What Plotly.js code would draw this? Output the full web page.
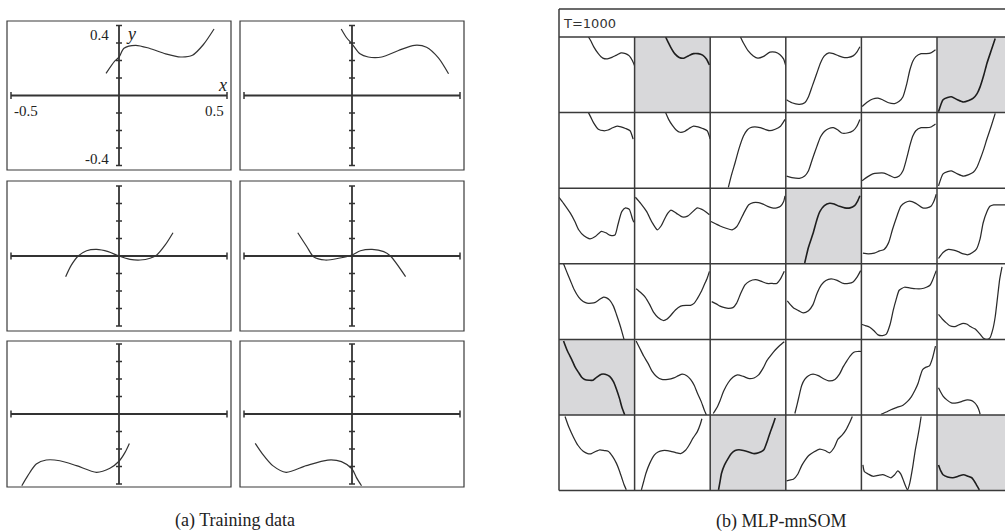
<!DOCTYPE html>
<html><head><meta charset="utf-8">
<script src="https://cdn.plot.ly/plotly-3.0.1.min.js"></script>
<style>html,body{margin:0;padding:0;background:#fff;}#chart{width:1005px;height:532px;}</style>
</head><body><div id="chart"></div>
<script>
// ---------- (a) Training data : six target functions y = f(x) ----------
const trainX1 = [-0.06,-0.02,0,0.023,0.077,0.14,0.216,0.286,0.34,0.39,0.44];
const trainY1 = [0.126,0.196,0.219,0.27,0.287,0.27,0.238,0.22,0.23,0.29,0.38];
const trainX2 = [-0.05,-0.025,0,0.037,0.075,0.138,0.215,0.29,0.345,0.40,0.447];
const trainY2 = [0.38,0.33,0.295,0.238,0.22,0.22,0.257,0.287,0.276,0.215,0.124];
const trainX3 = [-0.247,-0.22,-0.189,-0.15,-0.104,-0.05,0,0.051,0.098,0.144,0.175,0.214,0.25];
const trainY3 = [-0.118,-0.051,0,0.03,0.038,0.025,0,-0.019,-0.023,-0.013,0.006,0.063,0.133];
const trainX4 = [-0.251,-0.209,-0.178,-0.124,-0.062,0,0.039,0.093,0.147,0.178,0.248];
const trainY4 = [0.133,0.053,-0.004,-0.023,-0.013,0.006,0.03,0.038,0.025,0,-0.118];
const trainX5 = [-0.45,-0.422,-0.383,-0.337,-0.274,-0.197,-0.104,-0.042,0,0.028,0.048];
const trainY5 = [-0.41,-0.352,-0.286,-0.263,-0.267,-0.295,-0.333,-0.31,-0.27,-0.219,-0.168];
const trainX6 = [-0.448,-0.414,-0.367,-0.305,-0.212,-0.112,-0.049,0,0.02,0.044];
const trainY6 = [-0.168,-0.229,-0.295,-0.333,-0.295,-0.263,-0.272,-0.314,-0.362,-0.41];
const yTickVals = [-0.4,-0.3,-0.2,-0.1,0.1,0.2,0.3,0.4];
const xEndVals = [-0.5,0.5];

// ---------- (b) MLP-mnSOM : 6x6 map, module outputs (normalised input u, output v) ----------
const somR0U = [
 [0.39,0.42,0.46,0.52,0.58,0.64,0.70,0.76,0.82,0.88,0.93,0.97,1.0],
 [0.41,0.44,0.48,0.53,0.59,0.65,0.71,0.78,0.84,0.90,0.95,0.99],
 [0.40,0.44,0.50,0.57,0.63,0.70,0.79,0.86,0.92,0.97,1.0],
 [0.01,0.08,0.18,0.25,0.30,0.35,0.41,0.46,0.51,0.57,0.63,0.70,0.76,0.83,0.89,0.94,0.98],
 [0.01,0.08,0.15,0.22,0.28,0.36,0.44,0.50,0.55,0.60,0.64,0.68,0.72,0.79,0.86,0.92,0.98],
 [0.02,0.08,0.14,0.19,0.27,0.35,0.42,0.48,0.53,0.57,0.62,0.66,0.72,0.77]];
const somR0V = [
 [1.0,0.95,0.87,0.78,0.72,0.71,0.73,0.76,0.79,0.78,0.75,0.69,0.62],
 [1.0,0.94,0.86,0.78,0.73,0.72,0.75,0.78,0.78,0.76,0.71,0.63],
 [1.0,0.92,0.82,0.75,0.72,0.74,0.80,0.80,0.77,0.71,0.62],
 [0.17,0.13,0.11,0.13,0.21,0.35,0.52,0.66,0.75,0.79,0.78,0.75,0.73,0.73,0.75,0.80,0.87],
 [0.08,0.14,0.18,0.19,0.17,0.13,0.12,0.15,0.21,0.38,0.56,0.68,0.74,0.78,0.78,0.79,0.83],
 [0.01,0.17,0.20,0.21,0.17,0.14,0.16,0.19,0.25,0.34,0.50,0.65,0.83,0.98]];
const somR1U = [
 [0.39,0.42,0.46,0.52,0.59,0.65,0.71,0.77,0.82,0.88,0.94,0.98],
 [0.41,0.45,0.50,0.55,0.60,0.66,0.72,0.78,0.84,0.90,0.96,1.0],
 [0.24,0.28,0.33,0.38,0.44,0.49,0.53,0.59,0.66,0.72,0.79,0.86,0.93,0.99],
 [0.01,0.08,0.18,0.25,0.30,0.35,0.41,0.46,0.51,0.57,0.63,0.69,0.74,0.81,0.89,0.94,0.98],
 [0.01,0.08,0.15,0.22,0.30,0.37,0.44,0.50,0.55,0.60,0.64,0.68,0.72,0.79,0.86,0.92,0.98],
 [0.02,0.08,0.14,0.19,0.27,0.35,0.42,0.48,0.53,0.57,0.62,0.66,0.72,0.77]];
const somR1V = [
 [1.0,0.94,0.86,0.78,0.76,0.77,0.80,0.82,0.81,0.79,0.76,0.65],
 [1.0,0.91,0.83,0.77,0.74,0.75,0.79,0.82,0.81,0.79,0.76,0.65],
 [0.01,0.17,0.34,0.52,0.69,0.77,0.80,0.81,0.80,0.78,0.76,0.78,0.82,0.91],
 [0.16,0.14,0.13,0.16,0.23,0.38,0.55,0.68,0.75,0.79,0.80,0.77,0.73,0.73,0.76,0.82,0.91],
 [0.10,0.15,0.19,0.20,0.20,0.17,0.14,0.16,0.23,0.40,0.56,0.69,0.76,0.80,0.80,0.81,0.85],
 [0.03,0.19,0.22,0.23,0.19,0.16,0.18,0.21,0.28,0.38,0.52,0.65,0.83,0.99]];
const somR2U = [
 [0.0,0.06,0.15,0.21,0.26,0.33,0.41,0.48,0.56,0.62,0.67,0.74,0.78,0.83,0.88,0.93,0.97,0.99],
 [0.01,0.08,0.16,0.23,0.30,0.35,0.39,0.44,0.48,0.55,0.63,0.70,0.76,0.83,0.89,0.94,0.99],
 [0.01,0.07,0.13,0.21,0.29,0.35,0.40,0.46,0.51,0.57,0.64,0.70,0.76,0.82,0.88,0.93,0.97,0.99],
 [0.25,0.30,0.36,0.41,0.45,0.51,0.58,0.64,0.71,0.78,0.85,0.91,0.95,0.98],
 [0.02,0.09,0.17,0.24,0.30,0.36,0.41,0.47,0.52,0.58,0.64,0.72,0.81,0.87,0.92,0.96,0.99],
 [0.02,0.08,0.15,0.22,0.28,0.35,0.41,0.47,0.52,0.57,0.61,0.66,0.70,0.75,0.81,0.90]];
const somR2V = [
 [0.88,0.80,0.67,0.56,0.45,0.37,0.33,0.36,0.43,0.41,0.38,0.38,0.52,0.69,0.74,0.72,0.60,0.55],
 [0.88,0.80,0.69,0.55,0.45,0.50,0.58,0.67,0.71,0.67,0.62,0.63,0.68,0.74,0.72,0.69,0.65],
 [0.56,0.53,0.50,0.47,0.45,0.49,0.58,0.70,0.78,0.81,0.81,0.79,0.76,0.74,0.74,0.76,0.82,0.90],
 [0.01,0.22,0.40,0.58,0.69,0.77,0.80,0.79,0.76,0.74,0.74,0.77,0.83,0.90],
 [0.14,0.13,0.14,0.17,0.19,0.28,0.45,0.63,0.76,0.81,0.83,0.80,0.74,0.74,0.76,0.83,0.92],
 [0.07,0.15,0.19,0.18,0.16,0.13,0.12,0.15,0.19,0.33,0.54,0.69,0.76,0.78,0.78,0.78]];
const somR3U = [
 [0.06,0.10,0.15,0.20,0.26,0.32,0.37,0.43,0.48,0.54,0.59,0.63,0.67,0.72,0.76,0.80,0.83,0.86],
 [0.02,0.08,0.14,0.20,0.25,0.31,0.38,0.43,0.48,0.54,0.61,0.68,0.74,0.79,0.83,0.88,0.92,0.96,0.99],
 [0.02,0.08,0.13,0.19,0.24,0.30,0.35,0.40,0.46,0.52,0.60,0.67,0.75,0.82,0.88,0.93,0.98],
 [0.02,0.06,0.10,0.17,0.23,0.30,0.36,0.41,0.47,0.53,0.60,0.68,0.76,0.83,0.89,0.94,0.99],
 [0.0,0.06,0.11,0.17,0.22,0.28,0.33,0.38,0.42,0.46,0.50,0.57,0.64,0.72,0.79,0.86,0.91,0.94,0.99],
 [0.02,0.07,0.11,0.17,0.24,0.33,0.40,0.44,0.50,0.56,0.61,0.66,0.70,0.74,0.77,0.80,0.83,0.86]];
const somR3V = [
 [1.0,0.90,0.78,0.66,0.56,0.50,0.48,0.48,0.49,0.53,0.56,0.55,0.52,0.44,0.33,0.21,0.11,0.0],
 [0.67,0.62,0.56,0.46,0.36,0.29,0.25,0.27,0.32,0.39,0.44,0.45,0.45,0.48,0.54,0.63,0.72,0.81,0.90],
 [0.50,0.47,0.44,0.42,0.41,0.42,0.48,0.60,0.72,0.77,0.79,0.77,0.74,0.74,0.74,0.80,0.90],
 [0.51,0.46,0.42,0.38,0.35,0.38,0.46,0.60,0.72,0.78,0.80,0.78,0.74,0.74,0.76,0.82,0.91],
 [0.20,0.18,0.16,0.11,0.06,0.05,0.07,0.20,0.38,0.53,0.65,0.69,0.68,0.67,0.67,0.69,0.72,0.78,0.91],
 [0.33,0.27,0.23,0.18,0.17,0.21,0.20,0.17,0.14,0.08,0.02,0.00,0.02,0.14,0.30,0.55,0.80,0.96]];
const somR4U = [
 [0.06,0.11,0.17,0.21,0.26,0.30,0.34,0.40,0.45,0.50,0.56,0.61,0.67,0.72,0.76,0.80,0.83,0.87],
 [0.02,0.07,0.12,0.18,0.23,0.29,0.36,0.44,0.52,0.58,0.63,0.69,0.74,0.79,0.83,0.88,0.92,0.95],
 [0.04,0.09,0.13,0.18,0.24,0.30,0.36,0.44,0.52,0.58,0.64,0.70,0.75,0.81,0.86,0.92,0.98],
 [0.12,0.15,0.18,0.21,0.25,0.30,0.36,0.43,0.50,0.58,0.65,0.71,0.76,0.81,0.85,0.90,0.95,1.0],
 [0.26,0.33,0.39,0.47,0.55,0.61,0.66,0.71,0.75,0.78,0.81,0.85,0.90,0.94,0.98],
 [0.02,0.05,0.08,0.13,0.19,0.26,0.33,0.40,0.46,0.50,0.53,0.56,0.57]];
const somR4V = [
 [0.98,0.85,0.73,0.64,0.56,0.50,0.47,0.46,0.46,0.50,0.54,0.54,0.51,0.44,0.34,0.22,0.11,0.0],
 [0.98,0.88,0.78,0.68,0.58,0.51,0.47,0.47,0.49,0.52,0.54,0.52,0.47,0.39,0.29,0.18,0.07,0.0],
 [0.02,0.10,0.19,0.32,0.43,0.50,0.53,0.51,0.48,0.49,0.53,0.62,0.72,0.80,0.86,0.92,0.97],
 [0.02,0.14,0.27,0.39,0.47,0.52,0.54,0.52,0.48,0.45,0.47,0.54,0.64,0.72,0.78,0.83,0.84,0.84],
 [0.01,0.04,0.07,0.10,0.13,0.18,0.24,0.33,0.42,0.52,0.60,0.63,0.65,0.75,0.91],
 [0.36,0.30,0.25,0.20,0.16,0.16,0.18,0.20,0.19,0.16,0.12,0.05,0.01]];
const somR5U = [
 [0.08,0.13,0.19,0.25,0.32,0.38,0.43,0.49,0.54,0.60,0.65,0.71,0.76,0.80,0.83,0.86,0.89],
 [0.09,0.12,0.15,0.20,0.26,0.31,0.37,0.43,0.48,0.55,0.61,0.67,0.72,0.77,0.83,0.87,0.89],
 [0.11,0.13,0.15,0.19,0.24,0.28,0.33,0.38,0.44,0.51,0.57,0.64,0.71,0.75,0.79,0.83,0.86],
 [0.01,0.05,0.10,0.16,0.21,0.26,0.30,0.37,0.45,0.52,0.58,0.64,0.69,0.75,0.80,0.84,0.88],
 [0.02,0.04,0.09,0.15,0.22,0.28,0.34,0.39,0.44,0.48,0.52,0.55,0.58,0.61,0.64,0.68,0.71,0.74,0.77,0.79],
 [0.02,0.05,0.08,0.14,0.21,0.28,0.35,0.41,0.46,0.49,0.52,0.56]];
const somR5V = [
 [0.98,0.84,0.71,0.60,0.52,0.49,0.49,0.52,0.54,0.53,0.52,0.45,0.36,0.26,0.17,0.08,0.01],
 [0.01,0.12,0.23,0.36,0.47,0.51,0.53,0.53,0.52,0.50,0.49,0.53,0.60,0.69,0.78,0.88,0.95],
 [0.01,0.12,0.23,0.34,0.43,0.49,0.53,0.54,0.53,0.51,0.49,0.50,0.54,0.64,0.76,0.87,0.96],
 [0.13,0.14,0.15,0.22,0.33,0.41,0.46,0.51,0.55,0.53,0.50,0.57,0.68,0.74,0.81,0.89,0.98],
 [0.34,0.25,0.22,0.19,0.20,0.21,0.19,0.17,0.21,0.26,0.22,0.15,0.07,0.01,0.10,0.32,0.52,0.68,0.85,0.98],
 [0.34,0.26,0.21,0.18,0.17,0.19,0.21,0.19,0.17,0.13,0.08,0.01]];
const somU = [somR0U,somR1U,somR2U,somR3U,somR4U,somR5U];
const somV = [somR0V,somR1V,somR2V,somR3V,somR4V,somR5V];
const winnerCells = [[0,1],[0,5],[2,3],[4,0],[5,2],[5,5]];
const mapLabel = 'T=1000';
const captionA = '(a) Training data';
const captionB = '(b) MLP-mnSOM';

// ---------- layout helpers ----------
const W = 1005, H = 532;
const px = x => x / W, py = y => 1 - y / H;
const layout = {width:W,height:H,margin:{l:0,r:0,t:0,b:0,pad:0},paper_bgcolor:'#fff',
  plot_bgcolor:'rgba(0,0,0,0)',showlegend:false,shapes:[],annotations:[]};
const traces = [];
const ax = n => (n === 1 ? '' : String(n));
function addAxes(n, x0, x1, y0, y1, xr, yr) {
  const c = {visible:false,fixedrange:true,showgrid:false,zeroline:false};
  layout['xaxis'+ax(n)] = Object.assign({}, c, {domain:[px(x0),px(x1)],range:xr,anchor:'y'+ax(n)});
  layout['yaxis'+ax(n)] = Object.assign({}, c, {domain:[py(y1),py(y0)],range:yr,anchor:'x'+ax(n)});
}
const ink = '#2b2b2b';

// ---------- (a) panels ----------
const colsA = [[7,231],[240,464]];
const rowsA = [[21,170],[181,331],[341,487]];
const trainSets = [[trainX1,trainY1],[trainX2,trainY2],[trainX3,trainY3],[trainX4,trainY4],[trainX5,trainY5],[trainX6,trainY6]];
const pxPerX = 216, pxPerY = 175;
trainSets.forEach((s, i) => {
  const n = i + 1, r = Math.floor(i / 2), c = i % 2;
  const [x0, x1] = colsA[c], [y0, y1] = rowsA[r];
  const hx = (x1 - x0) / 2 / pxPerX, hy = (y1 - y0) / 2 / pxPerY;
  addAxes(n, x0, x1, y0, y1, [-hx, hx], [-hy, hy]);
  const xr = 'x'+ax(n), yr = 'y'+ax(n);
  layout.shapes.push({type:'rect',xref:'paper',yref:'paper',x0:px(x0),x1:px(x1),y0:py(y1),y1:py(y0),
    line:{color:'#3a3a3a',width:1.2},fillcolor:'rgba(0,0,0,0)'});
  const al = {color:'#333',width:1.8};
  layout.shapes.push({type:'line',xref:xr,yref:yr,x0:xEndVals[0],x1:xEndVals[1],y0:0,y1:0,line:al});
  layout.shapes.push({type:'line',xref:xr,yref:yr,x0:0,x1:0,y0:yTickVals[0],y1:yTickVals[yTickVals.length-1],line:al});
  xEndVals.forEach(v => layout.shapes.push({type:'line',xref:xr,yref:yr,x0:v,x1:v,y0:-0.02,y1:0.02,line:{color:'#333',width:1.5}}));
  yTickVals.forEach(v => layout.shapes.push({type:'line',xref:xr,yref:yr,x0:-0.014,x1:0.014,y0:v,y1:v,line:{color:'#333',width:1.5}}));
  traces.push({type:'scatter',mode:'lines',x:s[0],y:s[1],xaxis:xr,yaxis:yr,
    line:{color:'#333',width:1.2,shape:'spline',smoothing:0.8},hoverinfo:'skip'});
});
const serif = 'Liberation Serif, Times New Roman, serif';
const lab = (x, y, t, xa, ya, sz) => layout.annotations.push({xref:'x',yref:'y',x:x,y:y,text:t,showarrow:false,
  xanchor:xa,yanchor:ya,font:{family:serif,size:sz,color:'#222'}});
lab(-0.035, 0.345, '0.4', 'right', 'middle', 15);
lab(-0.035, -0.36, '-0.4', 'right', 'middle', 15);
lab(0.025, 0.35, '<i>y</i>', 'left', 'middle', 18);
lab(0.48, 0.06, '<i>x</i>', 'center', 'middle', 18);
lab(-0.495, -0.09, '-0.5', 'left', 'middle', 15);
lab(0.495, -0.09, '0.5', 'right', 'middle', 15);

// ---------- (b) SOM grid ----------
const gx0 = 559, gy0 = 37, cell = 75.6, gTop = 9;
for (let r = 0; r < 6; r++) {
  for (let c = 0; c < 6; c++) {
    const n = 7 + r * 6 + c;
    const x0 = gx0 + c * cell, x1 = Math.min(x0 + cell, W);
    const y0 = gy0 + r * cell, y1 = y0 + cell;
    addAxes(n, x0, x1, y0, y1, [0, (x1 - x0) / cell], [0, 1]);
    const win = winnerCells.some(p => p[0] === r && p[1] === c);
    if (win) layout.shapes.push({type:'rect',xref:'paper',yref:'paper',layer:'below',x0:px(x0),x1:px(x1),y0:py(y1),y1:py(y0),
      line:{width:0},fillcolor:'#d8d8da'});
    traces.push({type:'scatter',mode:'lines',x:somU[r][c],y:somV[r][c],xaxis:'x'+n,yaxis:'y'+n,
      line:{color:win?'#1e1e1e':ink,width:win?1.6:1.25,shape:'spline',smoothing:0.6},hoverinfo:'skip'});
  }
}
const gl = {color:'#3a3a3a',width:1.5};
layout.shapes.push({type:'line',xref:'paper',yref:'paper',x0:px(gx0),x1:1,y0:py(gTop),y1:py(gTop),line:gl});
layout.shapes.push({type:'line',xref:'paper',yref:'paper',x0:px(gx0),x1:px(gx0),y0:py(gTop),y1:py(gy0+6*cell),line:gl});
for (let k = 0; k <= 6; k++) {
  const y = gy0 + k * cell;
  layout.shapes.push({type:'line',xref:'paper',yref:'paper',x0:px(gx0),x1:1,y0:py(y),y1:py(y),line:gl});
}
for (let k = 1; k <= 5; k++) {
  const x = gx0 + k * cell;
  layout.shapes.push({type:'line',xref:'paper',yref:'paper',x0:px(x),x1:px(x),y0:py(gy0),y1:py(gy0+6*cell),line:gl});
}
layout.annotations.push({xref:'paper',yref:'paper',x:px(561),y:py(23),text:mapLabel,showarrow:false,
  xanchor:'left',yanchor:'middle',font:{family:'DejaVu Sans, Verdana, sans-serif',size:13,color:'#333'}});

// ---------- captions ----------
layout.annotations.push({xref:'paper',yref:'paper',x:px(235),y:py(520),text:captionA,showarrow:false,
  xanchor:'center',yanchor:'middle',font:{family:serif,size:18,color:'#222'}});
layout.annotations.push({xref:'paper',yref:'paper',x:px(781),y:py(521),text:captionB,showarrow:false,
  xanchor:'center',yanchor:'middle',font:{family:serif,size:18,color:'#222'}});

Plotly.newPlot('chart', traces, layout, {staticPlot:true,displayModeBar:false});
</script></body></html>
